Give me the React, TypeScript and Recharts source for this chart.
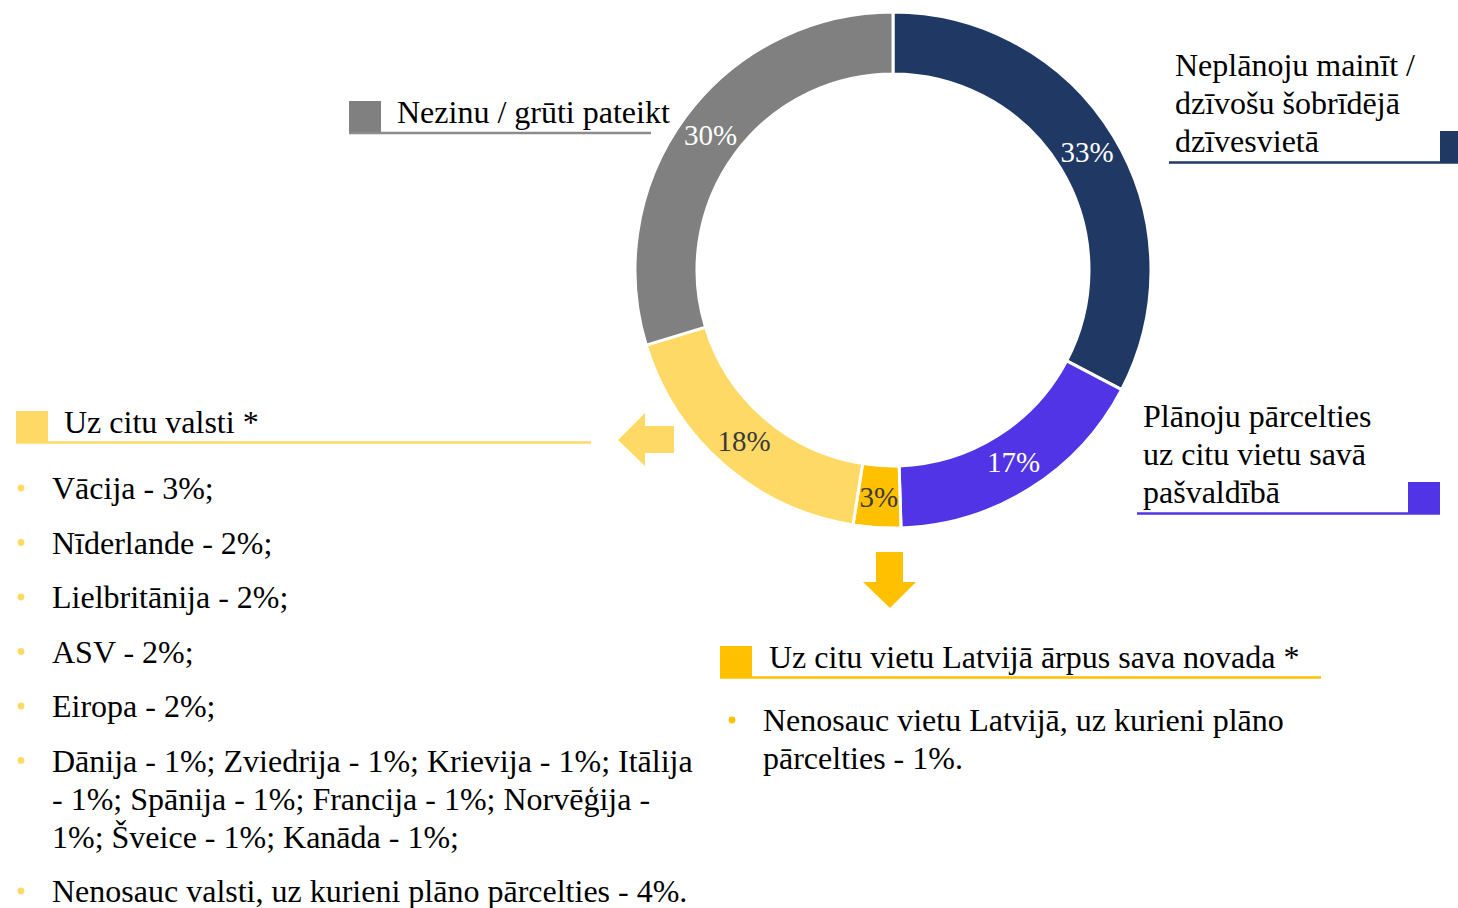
import React from 'react';
import { PieChart, Pie, Cell } from 'recharts';

const categories = [
  'Neplānoju mainīt / dzīvošu šobrīdējā dzīvesvietā',
  'Plānoju pārcelties uz citu vietu savā pašvaldībā',
  'Uz citu vietu Latvijā ārpus sava novada',
  'Uz citu valsti',
  'Nezinu / grūti pateikt',
];
const values = [33, 17, 3, 18, 30];

const legendLines: string[][] = [
  ['Neplānoju mainīt /', 'dzīvošu šobrīdējā', 'dzīvesvietā'],
  ['Plānoju pārcelties', 'uz citu vietu savā', 'pašvaldībā'],
  ['Uz citu vietu Latvijā ārpus sava novada *'],
  ['Uz citu valsti *'],
  ['Nezinu / grūti pateikt'],
];

const countryItems: string[][] = [
  ['Vācija - 3%;'],
  ['Nīderlande - 2%;'],
  ['Lielbritānija - 2%;'],
  ['ASV - 2%;'],
  ['Eiropa - 2%;'],
  [
    'Dānija - 1%; Zviedrija - 1%; Krievija - 1%; Itālija',
    '- 1%; Spānija - 1%; Francija - 1%; Norvēģija -',
    '1%; Šveice - 1%; Kanāda - 1%;',
  ],
  ['Nenosauc valsti, uz kurieni plāno pārcelties - 4%.'],
];

const latviaItems: string[][] = [
  ['Nenosauc vietu Latvijā, uz kurieni plāno', 'pārcelties - 1%.'],
];

const COLORS = ['#203864', '#5034E6', '#FFC000', '#FFD966', '#808080'];
const LABEL_COLORS = ['#FFFFFF', '#FFFFFF', '#3A3A3A', '#3A3A3A', '#FFFFFF'];
const FONT = '"Liberation Serif", "Times New Roman", serif';

const data = categories.map((name, i) => ({ name, value: values[i] }));

const RADIAN = Math.PI / 180;
const renderLabel = (props: any) => {
  const { cx, cy, midAngle, innerRadius, outerRadius, index } = props;
  const r = (innerRadius + outerRadius) / 2;
  const x = cx + r * Math.cos(-midAngle * RADIAN);
  const y = cy + r * Math.sin(-midAngle * RADIAN);
  return (
    <text
      x={x}
      y={y}
      fill={LABEL_COLORS[index]}
      textAnchor="middle"
      dominantBaseline="central"
      style={{ fontFamily: FONT, fontSize: 29 }}
    >
      {`${values[index]}%`}
    </text>
  );
};

const LINE_H = 38;
const ITEM_GAP = 16.5;

function BulletList({ items, x, y, color }: { items: string[][]; x: number; y: number; color: string }) {
  const out: React.ReactNode[] = [];
  let base = y;
  items.forEach((lines, i) => {
    out.push(<circle key={`b${i}`} cx={x - 31} cy={base - 11} r={3.4} fill={color} />);
    lines.forEach((ln, j) => {
      out.push(
        <text key={`t${i}-${j}`} x={x} y={base + j * LINE_H} fill="#000" style={{ fontFamily: FONT, fontSize: 32 }}>
          {ln}
        </text>
      );
    });
    base += lines.length * LINE_H + ITEM_GAP;
  });
  return <g>{out}</g>;
}

function MultiText({ lines, x, y }: { lines: string[]; x: number; y: number }) {
  return (
    <g>
      {lines.map((ln, j) => (
        <text key={j} x={x} y={y + j * LINE_H} fill="#000" style={{ fontFamily: FONT, fontSize: 32 }}>
          {ln}
        </text>
      ))}
    </g>
  );
}

export default function App() {
  return (
    <div style={{ position: 'absolute', left: 0, top: 0, width: 1458, height: 908, background: '#fff', overflow: 'hidden' }}>
      <div style={{ position: 'absolute', left: 0, top: 0 }}>
        <PieChart width={1458} height={908} margin={{ top: 0, right: 0, bottom: 0, left: 0 }}>
          <Pie
            data={data}
            dataKey="value"
            cx={893}
            cy={270}
            innerRadius={196}
            outerRadius={258}
            startAngle={90}
            endAngle={-270}
            stroke="#FFFFFF"
            strokeWidth={3}
            label={renderLabel}
            labelLine={false}
            isAnimationActive={false}
          >
            {data.map((d, i) => (
              <Cell key={d.name} fill={COLORS[i]} />
            ))}
          </Pie>
        </PieChart>
      </div>
      <svg width={1458} height={908} style={{ position: 'absolute', left: 0, top: 0, pointerEvents: 'none' }}>
        {/* Nezinu */}
        <rect x={349} y={101} width={32} height={32} fill={COLORS[4]} />
        <line x1={349} x2={651} y1={133} y2={133} stroke="#8C8C8C" strokeWidth={2.5} />
        <MultiText lines={legendLines[4]} x={397} y={123} />

        {/* Neplanoju */}
        <rect x={1440} y={131} width={32} height={32} fill={COLORS[0]} />
        <line x1={1169} x2={1458} y1={162.5} y2={162.5} stroke={COLORS[0]} strokeWidth={2.5} />
        <MultiText lines={legendLines[0]} x={1175} y={76} />

        {/* Planoju */}
        <rect x={1408} y={482} width={32} height={32} fill={COLORS[1]} />
        <line x1={1137} x2={1440} y1={513.5} y2={513.5} stroke={COLORS[1]} strokeWidth={2.5} />
        <MultiText lines={legendLines[1]} x={1143} y={427} />

        {/* Uz citu valsti */}
        <rect x={16} y={411} width={32} height={32} fill={COLORS[3]} />
        <line x1={16} x2={591} y1={442.5} y2={442.5} stroke={COLORS[3]} strokeWidth={2.5} />
        <MultiText lines={legendLines[3]} x={64} y={433} />
        <polygon
          points="618,440 645,413 645,426 674,426 674,453 645,453 645,466"
          fill={COLORS[3]}
        />
        <BulletList items={countryItems} x={52} y={499} color={COLORS[3]} />

        {/* Uz citu vietu Latvijā */}
        <polygon
          points="876,552 903,552 903,582 916,582 890,608 863,582 876,582"
          fill={COLORS[2]}
        />
        <rect x={720} y={646} width={32} height={32} fill={COLORS[2]} />
        <line x1={720} x2={1321} y1={677.5} y2={677.5} stroke={COLORS[2]} strokeWidth={2.5} />
        <MultiText lines={legendLines[2]} x={769} y={668} />
        <BulletList items={latviaItems} x={763} y={731} color={COLORS[2]} />
      </svg>
    </div>
  );
}
